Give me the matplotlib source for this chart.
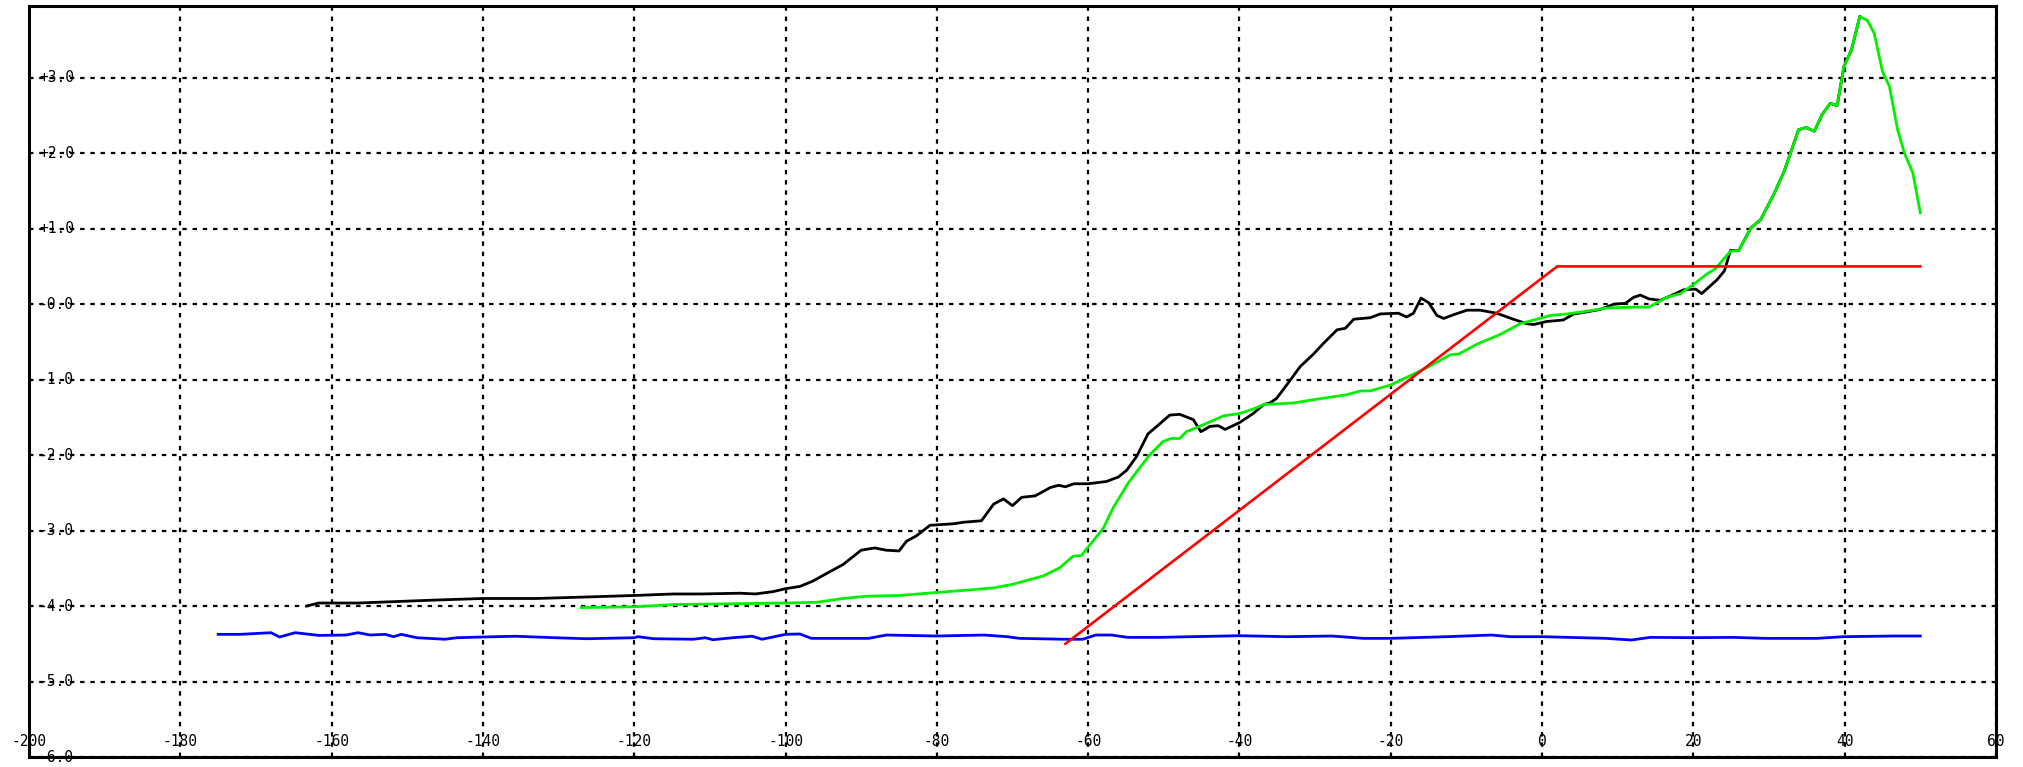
import matplotlib
matplotlib.use('Agg')
import matplotlib.pyplot as plt
import matplotlib.transforms as mtransforms
import numpy as np

# values
blackX = [-163.3, -161.7, -156.5, -151.3, -146.1, -140, -133, -126.3, -120, -114.8, -111, -106, -104,
          -101.7, -100, -98.1, -96.4, -94.6, -92.4, -90.0, -88.2, -86.7, -85.0, -84.0, -82.7, -80.9,
          -77.8, -76.5, -74.1, -72.5, -71.2, -70.0, -68.8, -67.0, -65.0, -63.9, -63.0, -61.9, -60.0,
          -57.6, -56.0, -54.9, -53.6, -52.1, -50.7, -49.2, -47.9, -46.1, -45.1, -43.9, -42.8, -41.9,
          -40, -38.2, -36.8, -36.0, -35.1, -33.3, -32.0, -30.2, -28.9, -27.1, -26.0, -24.9, -22.7,
          -21.4, -19.0, -17.9, -17.0, -16.0, -15.0, -13.9, -13.0, -11.7, -9.9, -8.2, -6.0, -3.8,
          -2.0, -1.1, 0.6, 2.8, 4.2, 5.5, 7.7, 9.5, 11.0, 12.1, 13.0, 14.1, 15.6, 17.0, 18.7, 20.3,
          21.1, 23.1, 24.1, 24.9, 26.0, 27.6, 28.9, 30.7, 32.0, 33.9, 34.9, 36.0, 37.0, 38.1, 39.0,
          39.9, 40.9, 42.0]
blackY = [-4.00, -3.96, -3.96, -3.94, -3.92, -3.90, -3.90, -3.88, -3.86, -3.84, -3.84, -3.83, -3.84,
          -3.81, -3.77, -3.74, -3.67, -3.57, -3.45, -3.26, -3.23, -3.26, -3.27, -3.14, -3.07, -2.93,
          -2.91, -2.89, -2.87, -2.65, -2.58, -2.67, -2.56, -2.54, -2.43, -2.40, -2.42, -2.38, -2.38,
          -2.35, -2.29, -2.20, -2.02, -1.72, -1.60, -1.47, -1.46, -1.53, -1.69, -1.62, -1.61, -1.66,
          -1.57, -1.45, -1.33, -1.31, -1.25, -1.01, -0.83, -0.66, -0.52, -0.34, -0.32, -0.20, -0.18,
          -0.13, -0.12, -0.17, -0.12, 0.08, 0.02, -0.15, -0.19, -0.14, -0.08, -0.08, -0.12, -0.20,
          -0.26, -0.27, -0.23, -0.21, -0.13, -0.11, -0.07, 0.00, 0.01, 0.09, 0.12, 0.07, 0.05, 0.11,
          0.19, 0.20, 0.14, 0.32, 0.44, 0.71, 0.71, 1.01, 1.12, 1.47, 1.76, 2.31, 2.34, 2.29, 2.51,
          2.66, 2.63, 3.15, 3.37, 3.81]

greenX = [-127.0, -120, -114.8, -107, -100, -95.9, -92.4, -89.3, -84.9, -80, -76.1, -72.5, -69.9,
          -65.9, -63.7, -62.0, -60.9, -59.6, -58.0, -56.7, -54.7, -53.2, -51.8, -50.1, -49.0, -47.9,
          -47.0, -44.8, -42.1, -40, -38.2, -36.8, -32.9, -29.8, -25.8, -24.0, -22.7, -20.0, -18.3,
          -15.2, -12.1, -11.0, -8.6, -5.5, -2.9, -0.7, 1.1, 3.3, 5.5, 8.6, 12.1, 14.1, 16.5, 18.3,
          20.0, 21.8, 22.8, 24.9, 26.0, 27.6, 28.9, 30.7, 32.0, 33.9, 34.9, 36.0, 37.0, 38.1, 39.0,
          39.9, 40.9, 42.0, 43.0, 43.9, 45.0, 45.9, 47.0, 47.9, 49.0, 50.0]
greenY = [-4.02, -4.01, -3.98, -3.97, -3.96, -3.95, -3.90, -3.87, -3.86, -3.82, -3.79, -3.76, -3.71,
          -3.60, -3.49, -3.34, -3.33, -3.17, -2.97, -2.70, -2.37, -2.17, -1.99, -1.82, -1.78, -1.78,
          -1.69, -1.60, -1.48, -1.45, -1.39, -1.33, -1.31, -1.26, -1.20, -1.15, -1.15, -1.07, -0.99,
          -0.84, -0.67, -0.66, -0.53, -0.40, -0.26, -0.20, -0.15, -0.13, -0.10, -0.05, -0.04, -0.04,
          0.09, 0.14, 0.26, 0.40, 0.46, 0.70, 0.71, 1.01, 1.12, 1.47, 1.76, 2.31, 2.34, 2.29, 2.51,
          2.66, 2.63, 3.15, 3.37, 3.81, 3.76, 3.59, 3.08, 2.89, 2.31, 2.00, 1.74, 1.21]

blueX = [-175.0, -172.1, -168.0, -166.9, -164.8, -161.7, -158.1, -156.5, -154.9, -152.9, -151.8,
         -150.8, -148.7, -145.0, -143.5, -140, -135.7, -130.4, -126.3, -120, -119.5, -117.4, -112.2,
         -110.6, -109.6, -107.0, -104.4, -103.1, -100, -98.1, -96.6, -94.3, -89.0, -86.7, -80,
         -73.8, -70.7, -69.1, -63.2, -60.7, -59.0, -56.9, -54.8, -50.6, -46.3, -40, -33.7, -27.8,
         -23.6, -20, -12.6, -6.7, -4.2, 0, 8.4, 11.8, 14.3, 20, 25.3, 29.5, 36.3, 39.9, 46.4, 50.0]
blueY = [-4.375, -4.375, -4.353, -4.41, -4.353, -4.389, -4.384, -4.353, -4.384, -4.375, -4.406,
         -4.375, -4.42, -4.44, -4.42, -4.41, -4.40, -4.42, -4.433, -4.42, -4.406, -4.433, -4.44,
         -4.42, -4.446, -4.42, -4.40, -4.44, -4.375, -4.37, -4.428, -4.428, -4.428, -4.384, -4.397,
         -4.384, -4.406, -4.428, -4.44, -4.44, -4.384, -4.384, -4.415, -4.415, -4.406, -4.393,
         -4.406, -4.397, -4.428, -4.428, -4.406, -4.384, -4.406, -4.406, -4.428, -4.45, -4.415,
         -4.419, -4.415, -4.428, -4.428, -4.406, -4.397, -4.397]

redX = [-63.0, 2.0, 50.0]
redY = [-4.5, 0.5, 0.5]

xTicks = list(range(-200, 61, 20))
yTicks = list(range(-6, 4))
xTickLabels = [str(v) for v in xTicks]
yTickLabels = ['-6.0', '-5.0', '-4.0', '-3.0', '-2.0', '-1.0', '-0.0', '+1.0', '+2.0', '+3.0']

fig = plt.figure(figsize=(20.24, 7.67), dpi=100)
ax = fig.add_axes([29 / 2024, 10 / 767, 1967 / 2024, 751 / 767])

ax.plot(blueX, blueY, color='#0000ff', lw=2.0, zorder=3)
ax.plot(blackX, blackY, color='black', lw=2.0, zorder=4)
ax.plot(greenX, greenY, color='#00f000', lw=2.0, zorder=5)
ax.plot(redX, redY, color='#ff0000', lw=1.9, zorder=6)

ax.set_xlim(-200, 60)
ax.set_ylim(-6, 3.95)
ax.set_xticks(xTicks)
ax.set_yticks(yTicks)
ax.tick_params(length=0, labelbottom=False, labelleft=False)
ax.grid(True, color='black', lw=1.6, linestyle=(0, (2.0, 2.6)), zorder=1)
for spine in ax.spines.values():
    spine.set_linewidth(2.2)
    spine.set_zorder(7)

# labels sit inside the frame, on top of the grid
xTrans = mtransforms.blended_transform_factory(ax.transData, ax.transAxes)
for v, lab in zip(xTicks, xTickLabels):
    ax.text(v, 16 / 751, lab, transform=xTrans, ha='center', va='center',
            family='DejaVu Sans Mono', fontsize=10.5, zorder=8, clip_on=False)

yTrans = mtransforms.blended_transform_factory(ax.transAxes, ax.transData)
for v, lab in zip(yTicks, yTickLabels):
    ax.text(10 / 1967, v, lab, transform=yTrans, ha='left', va='center',
            family='DejaVu Sans Mono', fontsize=10.5, zorder=8, clip_on=False)

fig.savefig('out.png', dpi=100)
